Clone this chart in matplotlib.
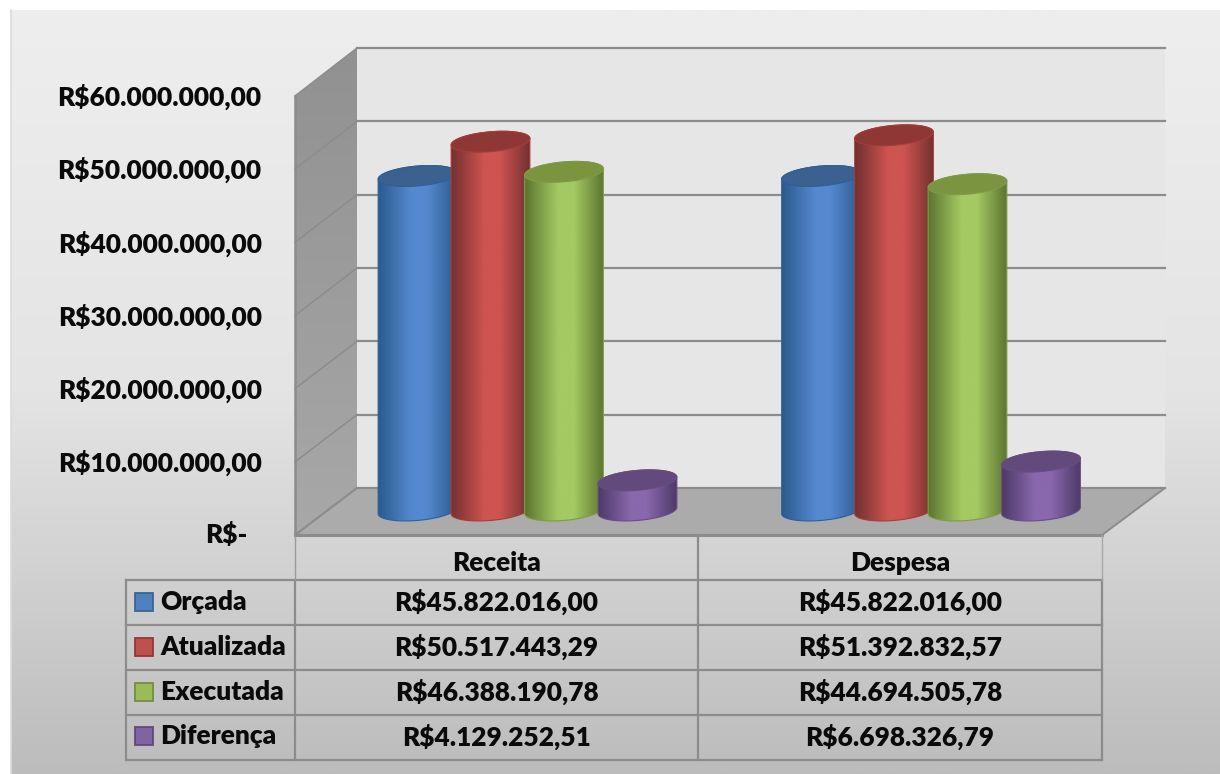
import numpy as np
import matplotlib
matplotlib.use("Agg")
import matplotlib.pyplot as plt
from matplotlib.colors import LinearSegmentedColormap
from matplotlib.patches import Polygon, Rectangle
from matplotlib.ticker import FuncFormatter

categories = ["Receita", "Despesa"]
series_names = ["Orçada", "Atualizada", "Executada", "Diferença"]
orcada = [45822016.00, 45822016.00]
atualizada = [50517443.29, 51392832.57]
executada = [46388190.78, 44694505.78]
diferenca = [4129252.51, 6698326.79]
series_values = [orcada, atualizada, executada, diferenca]
axis_ticks = [0, 10000000, 20000000, 30000000, 40000000, 50000000, 60000000]

W, H = 1220, 774
FONT = "Lato"
WEIGHT = "heavy"
FS = 18.9
GRID = "#8c8c8c"
styles = [
    dict(dark="#2c5a8e", light="#5489cf", top="#3a618f", edge="#2f5f98", key="#4f81bd", kedge="#3a6496"),
    dict(dark="#733130", light="#ce5451", top="#8e3735", edge="#a33c3a", key="#c0504d", kedge="#8f3a38"),
    dict(dark="#5c7530", light="#a5c963", top="#7a9440", edge="#7f9c45", key="#9bbb59", kedge="#748e42"),
    dict(dark="#4d3a68", light="#8a68ad", top="#624a7c", edge="#674c85", key="#8064a2", kedge="#5f4a7a"),
]


def brl(v):
    s = f"{v:,.2f}".replace(",", "#").replace(".", ",").replace("#", ".")
    return "R$" + s


def px_axes(fig, x0, y0, x1, y1, z):
    a = fig.add_axes([x0 / W, 1 - y1 / H, (x1 - x0) / W, (y1 - y0) / H], zorder=z)
    a.patch.set_alpha(0)
    return a


fig = plt.figure(figsize=(W / 100, H / 100), dpi=100, facecolor="white")

# ---- background, floor, side wall, table rules (pixel space)
bg = px_axes(fig, 0, 0, W, H, 0)
bg.set_xlim(0, W)
bg.set_ylim(H, 0)
bg.axis("off")
panel = LinearSegmentedColormap.from_list("p", ["#eeeeee", "#e4e4e4", "#bcbcbc"])
bg.imshow(np.linspace(0, 1, 256)[:, None], extent=(11, W, H, 10), cmap=panel,
          aspect="auto", zorder=0, vmin=0, vmax=1)
bg.plot([11, 11], [10, H], color="#dcdcdc", lw=1.2, zorder=1)
bg.set_xlim(0, W)
bg.set_ylim(H, 0)

wall_cm = LinearSegmentedColormap.from_list("w", ["#919191", "#a8a8a8"])
wall = Polygon([(295, 96), (357, 48), (357, 488), (295, 535)], closed=True, fc="none", ec="none",
               transform=bg.transData)
bg.add_patch(wall)
im = bg.imshow(np.linspace(0, 1, 64)[:, None], extent=(295, 357, 535, 48), cmap=wall_cm,
               aspect="auto", zorder=2)
im.set_clip_path(wall)
bg.set_xlim(0, W)
bg.set_ylim(H, 0)
bg.add_patch(Polygon([(295, 535), (357, 488), (1165, 488), (1102, 535)], closed=True,
                     fc="#ababab", ec=GRID, lw=1.4, zorder=3))
bg.plot([295, 295], [96, 535], color=GRID, lw=1.8, zorder=4)
for v in axis_ticks:
    f = v / 60e6
    bg.plot([295, 357], [535 - f * 439, 488 - f * 440], color=GRID, lw=1.1, zorder=4)

# table rules
rows_y = [580, 625, 670, 715, 760]
bg.plot([295, 1102], [535, 535], color=GRID, lw=2.2, zorder=5)
for y in rows_y:
    bg.plot([126, 1102], [y, y], color=GRID, lw=1.6, zorder=5)
for x, y_start in [(126, 580), (295, 580), (698, 535), (1102, 580)]:
    bg.plot([x, x], [y_start, 760], color=GRID, lw=1.6, zorder=5)
bg.plot([1102, 1102], [535, 580], color="#a8a8a8", lw=1.0, zorder=5)
bg.plot([295, 295], [535, 580], color="#9a9a9a", lw=1.0, zorder=5)

txt = dict(fontfamily=FONT, fontweight=WEIGHT, fontsize=FS, color="#0a0a0a", va="center", zorder=6)
col_x = [496.5, 900]
for cx, name in zip(col_x, categories):
    bg.text(cx, 563, name, ha="center", **txt)
for i, (name, vals, st) in enumerate(zip(series_names, series_values, styles)):
    yc = 602 + i * 44.8
    bg.add_patch(Rectangle((135, yc - 9), 18, 18, fc=st["key"], ec=st["kedge"], lw=1.3, zorder=6))
    bg.text(160, yc, name, ha="left", **txt)
    for cx, v in zip(col_x, vals):
        bg.text(cx, yc, brl(v), ha="center", **txt)

# ---- back wall: same value scale, with the gridlines
back = px_axes(fig, 357, 48, 1165, 488, 1)
back.patch.set_alpha(1)
back.set_facecolor("#e6e6e6")
back.set_ylim(0, 60e6)
back.set_xticks([])
back.set_yticks(axis_ticks)
back.tick_params(left=False, labelleft=False)
back.grid(axis="y", color=GRID, lw=1.6, clip_on=False)
back.set_axisbelow(True)
for s in back.spines.values():
    s.set_visible(False)

# ---- cylinders
PX_X = 403.5          # pixels per category
PX_V = 438 / 60e6     # pixels per value unit
ax = px_axes(fig, 357, 72.5, 1165, 510.5, 2)
ax.axis("off")
XLIM = ((357 - 527.5) / PX_X, (1165 - 527.5) / PX_X)
offsets = [-110 / PX_X, -37 / PX_X, 36.5 / PX_X, 110 / PX_X]
A, B, TILT = 39.5, 9.9, np.deg2rad(5.0)


def ell(t):
    # tilted ellipse outline, returned as offsets in data units
    ex, ey = A * np.cos(t), B * np.sin(t)
    dx = ex * np.cos(TILT) - ey * np.sin(TILT)
    dy = ex * np.sin(TILT) + ey * np.cos(TILT)
    return dx / PX_X, dy / PX_V


for si, (vals, st, off) in enumerate(zip(series_values, styles, offsets)):
    cmap = LinearSegmentedColormap.from_list(
        "c", [(0, st["dark"]), (0.42, st["light"]), (0.62, st["light"]), (1, st["dark"])])
    for gi, v in enumerate(vals):
        xc = gi + off
        bx, by = ell(np.linspace(np.pi, 2 * np.pi, 60))   # lower half of base ellipse
        tx, ty = ell(np.linspace(0, np.pi, 60))           # upper half of top ellipse
        body_pts = list(zip(xc + bx, by)) + list(zip(xc + tx, v + ty))
        body = Polygon(body_pts, closed=True, fc="none", ec=st["edge"], lw=0.8,
                       zorder=10 + si * 3 + 1, clip_on=False)
        ax.add_patch(body)
        left, right = xc - A / PX_X, xc + A / PX_X
        grad = ax.imshow(np.linspace(0, 1, 128)[None, :], extent=(left, right, -15 / PX_V, v + 15 / PX_V),
                         cmap=cmap, aspect="auto", zorder=10 + si * 3, origin="lower")
        grad.set_clip_box(fig.bbox)
        grad.set_clip_path(body)
        ex, ey = ell(np.linspace(0, 2 * np.pi, 120))
        ax.add_patch(Polygon(list(zip(xc + ex, v + ey)), closed=True, fc=st["top"], ec=st["edge"],
                             lw=0.8, zorder=10 + si * 3 + 2, clip_on=False))
ax.set_xlim(*XLIM)
ax.set_ylim(0, 60e6)

# ---- front plane: value axis labels
front = px_axes(fig, 295, 95, 1102, 534, 3)
front.set_ylim(0, 60e6)
front.set_xticks([])
for s in front.spines.values():
    s.set_visible(False)
front.set_yticks(axis_ticks[1:])
front.yaxis.set_major_formatter(FuncFormatter(lambda v, p: brl(v)))
front.tick_params(axis="y", length=0, pad=24)
for lab in front.get_yticklabels():
    lab.set_fontfamily(FONT)
    lab.set_fontweight(WEIGHT)
    lab.set_fontsize(FS)
    lab.set_color("#0a0a0a")
front.annotate("R$-", xy=(0, axis_ticks[0]), xycoords=front.get_yaxis_transform(),
               xytext=(-34, 0), textcoords="offset points", ha="right", va="center",
               fontfamily=FONT, fontweight=WEIGHT, fontsize=FS, color="#0a0a0a",
               annotation_clip=False)

fig.savefig("out.png", dpi=100)
